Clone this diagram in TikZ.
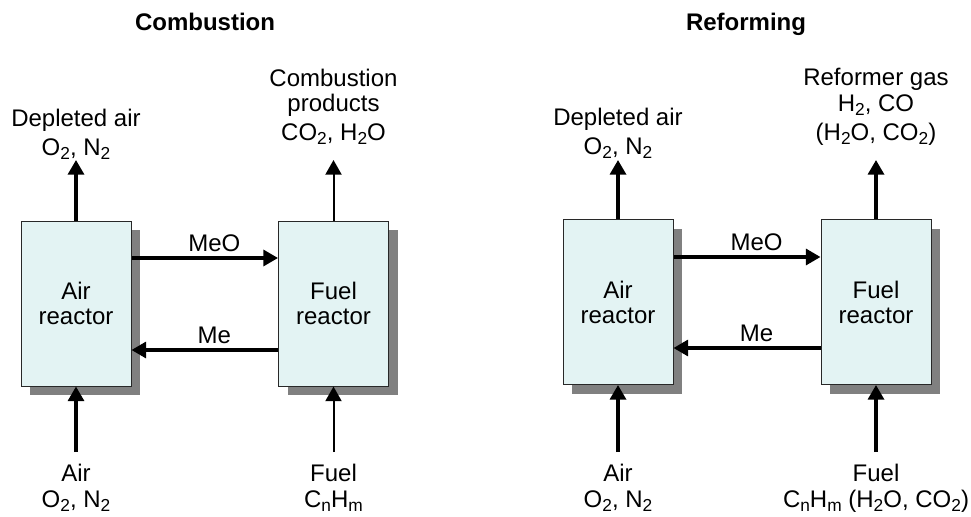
\documentclass[tikz,border=0pt]{standalone}
\usepackage{fontspec}
\setmainfont{Liberation Sans}
\usetikzlibrary{arrows.meta,shadows,calc}

\definecolor{reactorfill}{RGB}{227,243,243}
\definecolor{shadowgray}{RGB}{128,128,128}

\newcommand{\chemsub}[1]{\raisebox{-3pt}{\fontsize{13}{13}\selectfont #1}}

\tikzset{
  reactor/.style={draw={rgb,255:red,40;green,40;blue,40}, line width=0.75pt, fill=reactorfill,
    minimum width=82.5pt, minimum height=123.75pt, inner sep=0pt, align=center,
    drop shadow={shadow xshift=6.75pt, shadow yshift=-6.75pt, fill=shadowgray, opacity=1}},
  flow/.style={line width=2.5pt, -{Triangle[length=11pt,width=12pt]}},
  thinflow/.style={line width=1.5pt, -{Triangle[length=11pt,width=12pt]}},
  stream/.style={anchor=north, inner sep=0pt, align=center},
  paneltitle/.style={anchor=north, inner sep=0pt, font=\fontsize{18}{18.75}\selectfont\bfseries}
}

\begin{document}
\begin{tikzpicture}[x=0.75pt,y=0.75pt,yscale=-1,xscale=1,font=\fontsize{18}{18.75}\selectfont]
\useasboundingbox (0,0) rectangle (971,517);

% Text Node
\node[paneltitle] (combtitle) at (205,13) {Combustion};
% Text Node
\node[paneltitle] (reftitle) at (746,13) {Reforming};

%Shape: Rectangle
\node[reactor] (air1) at (76,303.5) {Air\\reactor};
%Shape: Rectangle
\node[reactor] (fuel1) at (333.5,303.5) {Fuel\\reactor};
%Shape: Rectangle
\node[reactor] (air2) at (618,302) {Air\\reactor};
%Shape: Rectangle
\node[reactor] (fuel2) at (876,302) {Fuel\\reactor};

%Straight Lines
\draw[flow] ($(air1.east)+(0,-45.5)$) -- node[above,pos=0.565] {MeO} ($(fuel1.west)+(0,-45.5)$);
\draw[flow] ($(fuel1.west)+(0,46.5)$) -- node[above,pos=0.435] {Me} ($(air1.east)+(0,46.5)$);
%Straight Lines
\draw[flow] ($(air2.east)+(0,-45)$) -- node[above,pos=0.565] {MeO} ($(fuel2.west)+(0,-45)$);
\draw[flow] ($(fuel2.west)+(0,46)$) -- node[above,pos=0.435] {Me} ($(air2.east)+(0,46)$);

% outlets
\coordinate (dair1) at (76,160);
\coordinate (prod1) at (333.5,160);
\coordinate (dair2) at (618,160);
\coordinate (prod2) at (876,160);
\draw[flow] (air1.north) -- (dair1);
\draw[thinflow] (fuel1.north) -- (prod1);
\draw[flow] (air2.north) -- (dair2);
\draw[flow] (fuel2.north) -- (prod2);

% inlets
\coordinate (airin1) at (76,452);
\coordinate (fuelin1) at (333.5,452);
\coordinate (airin2) at (618,452);
\coordinate (fuelin2) at (876,452);
\draw[flow] (airin1) -- (air1.south);
\draw[thinflow] (fuelin1) -- (fuel1.south);
\draw[flow] (airin2) -- (air2.south);
\draw[flow] (fuelin2) -- (fuel2.south);

% Text Node
\node[stream] (dairlbl1) at (76,109) {Depleted air\\[3pt]O\chemsub{2}, N\chemsub{2}};
% Text Node
\node[stream] (prodlbl1) at (333.5,69) {Combustion\\products\\[3pt]CO\chemsub{2}, H\chemsub{2}O};
% Text Node
\node[stream] (dairlbl2) at (618,108) {Depleted air\\[3pt]O\chemsub{2}, N\chemsub{2}};
% Text Node
\node[stream] (prodlbl2) at (876,68) {Reformer gas\\[1pt]H\chemsub{2}, CO\\[2.5pt](H\chemsub{2}O, CO\chemsub{2})};
% Text Node
\node[stream] (airlbl1) at (76,464) {Air\\[1pt]O\chemsub{2}, N\chemsub{2}};
% Text Node
\node[stream] (fuellbl1) at (333.5,464) {Fuel\\[1pt]C\chemsub{n}H\chemsub{m}};
% Text Node
\node[stream] (airlbl2) at (618,464) {Air\\[1pt]O\chemsub{2}, N\chemsub{2}};
% Text Node
\node[stream] (fuellbl2) at (876,464) {Fuel\\[1pt]C\chemsub{n}H\chemsub{m} (H\chemsub{2}O, CO\chemsub{2})};
\end{tikzpicture}
\end{document}
